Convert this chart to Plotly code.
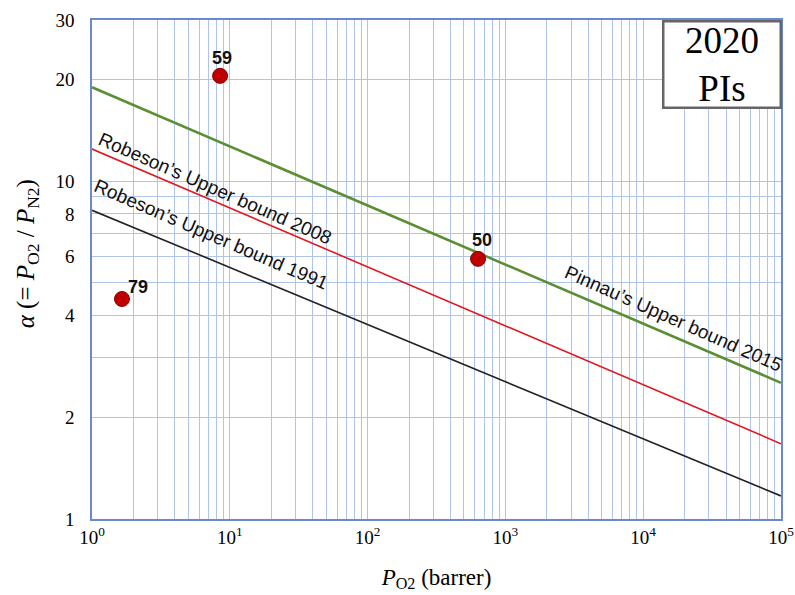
import plotly.graph_objects as go
import numpy as np

# Upper bound lines (P_O2 in barrer, selectivity alpha)
bound_P = [1, 1e5]
robeson1991_alpha = [8.2, 1.17]
robeson2008_alpha = [12.45, 1.67]
pinnau2015_alpha = [18.97, 2.53]

# Polyimide data points
pi_labels = ["79", "59", "50"]
pi_P = [1.65, 8.5, 633]
pi_alpha = [4.48, 20.5, 5.89]

x_ticks = [1, 10, 100, 1000, 10000, 100000]
x_ticktext = ["10<sup>0</sup>", "10<sup>1</sup>", "10<sup>2</sup>", "10<sup>3</sup>", "10<sup>4</sup>", "10<sup>5</sup>"]
y_ticks = [1, 2, 4, 6, 8, 10, 20, 30]

grid_col = "#b0c4ea"
frame_col = "#6a8ad0"
serif = "Liberation Serif, Times New Roman, serif"
sans = "Liberation Sans, Arial, sans-serif"

fig = go.Figure()
fig.add_trace(go.Scatter(x=bound_P, y=robeson1991_alpha, mode="lines",
                         line=dict(color="#222222", width=1.6), showlegend=False))
fig.add_trace(go.Scatter(x=bound_P, y=robeson2008_alpha, mode="lines",
                         line=dict(color="#e0191f", width=1.6), showlegend=False))
fig.add_trace(go.Scatter(x=bound_P, y=pinnau2015_alpha, mode="lines",
                         line=dict(color="#5b8f33", width=2.6), showlegend=False))
fig.add_trace(go.Scatter(x=pi_P, y=pi_alpha, mode="markers",
                         marker=dict(color="#c00000", size=15, line=dict(color="#8a0000", width=1)),
                         showlegend=False))

label_shifts = {"79": (16, 12), "59": (2, 18), "50": (4, 19)}
for lab, p, a in zip(pi_labels, pi_P, pi_alpha):
    xs, ys = label_shifts[lab]
    fig.add_annotation(x=np.log10(p), y=np.log10(a), text="<b>" + lab + "</b>",
                       showarrow=False, yshift=ys, xshift=xs,
                       font=dict(family=sans, size=18, color="#111111"))

line_label_font = dict(family=sans, size=19, color="#111111")
fig.add_annotation(x=0.895, y=0.978, text="Robeson’s Upper bound 2008", showarrow=False,
                   textangle=23.6, font=line_label_font)
fig.add_annotation(x=0.866, y=0.842, text="Robeson’s Upper bound 1991", showarrow=False,
                   textangle=23.2, font=line_label_font)
fig.add_annotation(x=4.22, y=0.594, text="Pinnau’s Upper bound 2015", showarrow=False,
                   textangle=23.8, font=line_label_font)

# 2020 PIs box
fig.add_annotation(xref="paper", yref="paper", x=0.915, y=0.911, xanchor="center", yanchor="middle",
                   text="2020<br>PIs", showarrow=False, align="center",
                   font=dict(family=serif, size=37, color="#000000"),
                   bordercolor="#666666", borderwidth=2.5, bgcolor="white", borderpad=0,
                   width=115, height=84)

# y-axis title placed as rotated text
fig.add_annotation(xref="paper", yref="paper", x=-0.094, y=0.531, xanchor="center", yanchor="middle",
                   text="<i>α</i> (= <i>P</i><sub>O2</sub> / <i>P</i><sub>N2</sub>)",
                   showarrow=False, textangle=-90,
                   font=dict(family=serif, size=25, color="#000"))

fig.update_xaxes(type="log", range=[0, 5], tickvals=x_ticks, ticktext=x_ticktext,
                 showgrid=True, gridcolor=grid_col, gridwidth=1,
                 minor=dict(tickmode="array",
                            tickvals=[m * 10 ** d for d in range(5) for m in range(2, 10)],
                            showgrid=True, gridcolor=grid_col, gridwidth=1, ticks=""),
                 showline=True, linecolor=frame_col, linewidth=1.5, mirror=True,
                 ticks="", zeroline=False,
                 tickfont=dict(family=serif, size=19, color="#000"),
                 title=dict(text="<i>P</i><sub>O2</sub> (barrer)", standoff=22,
                            font=dict(family=serif, size=23, color="#000")))
fig.update_yaxes(type="log", range=[0, np.log10(30)], tickvals=y_ticks,
                 showgrid=True, gridcolor=grid_col, gridwidth=1,
                 minor=dict(tickmode="array", tickvals=[3, 5, 7, 9],
                            showgrid=True, gridcolor=grid_col, gridwidth=1, ticks=""),
                 showline=True, linecolor=frame_col, linewidth=1.5, mirror=True,
                 ticks="", zeroline=False, ticklabelstandoff=12,
                 tickfont=dict(family=serif, size=19, color="#000"))

fig.update_layout(width=795, height=595, margin=dict(l=92, r=14, t=20, b=76, autoexpand=False),
                  plot_bgcolor="white", paper_bgcolor="white")
fig.write_html("out.html", config={"displayModeBar": False},
               post_script="document.body.style.margin='0';")
